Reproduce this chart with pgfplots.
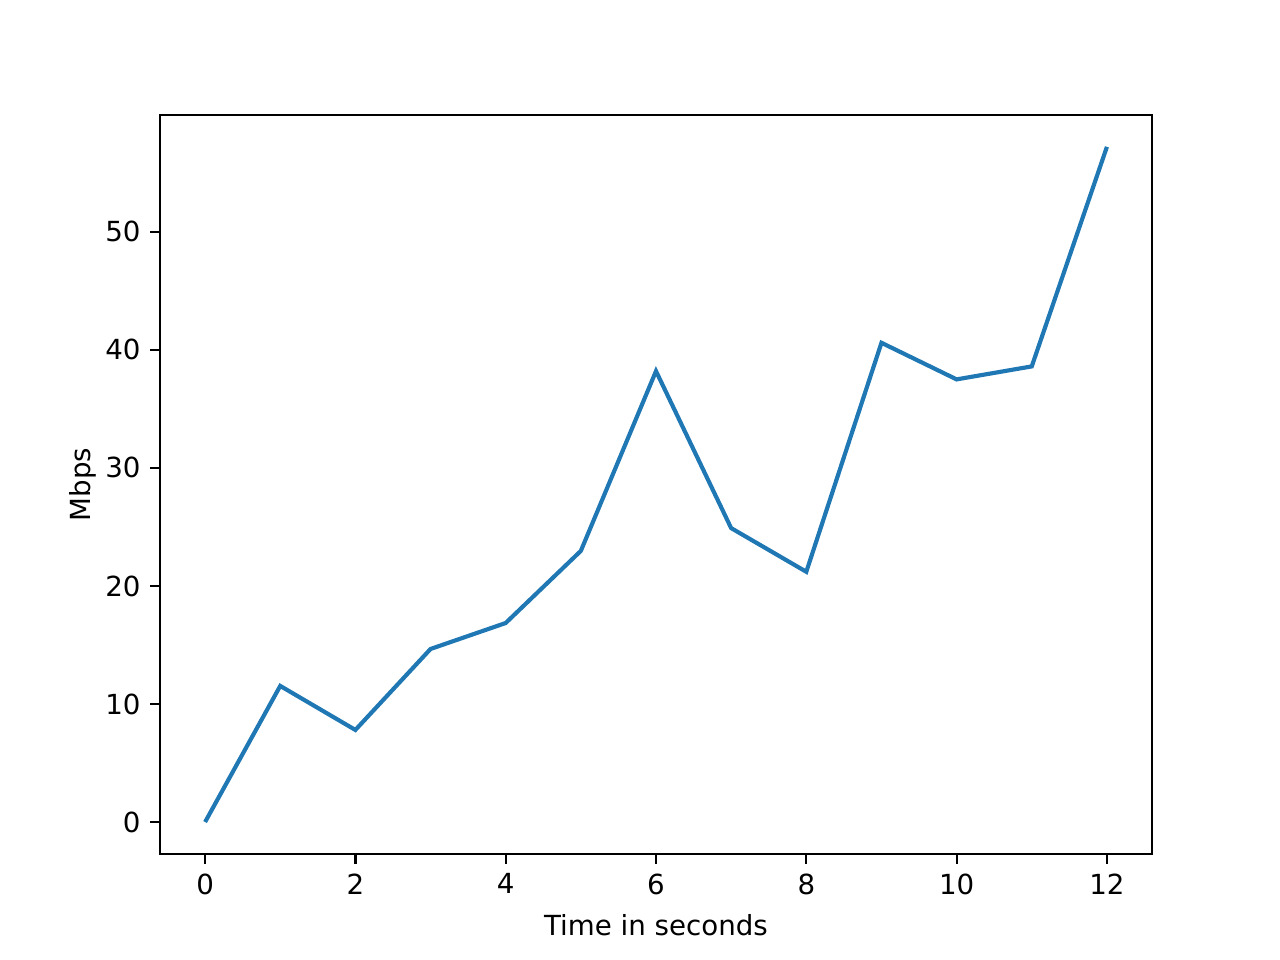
\documentclass[border=0pt]{standalone}
\usepackage{fontspec}
\setmainfont{DejaVu Sans}
\usepackage{pgfplots}
\pgfplotsset{compat=1.18}
\definecolor{mplblue}{HTML}{1F77B4}
\begin{document}
\begin{tikzpicture}
\path[use as bounding box] (-0.8in,-0.53in) rectangle (5.6in,4.27in);
\begin{axis}[
  at={(0,0)}, anchor=south west,
  scale only axis,
  width=4.96in, height=3.695in,
  xmin=-0.6, xmax=12.6,
  ymin=-2.71, ymax=59.9,
  xtick={0,2,4,6,8,10,12},
  ytick={0,10,20,30,40,50},
  xtick pos=bottom, ytick pos=left,
  tick align=outside,
  major tick length=3.5pt,
  every tick/.style={black, line width=0.8pt},
  axis line style={line width=0.8pt},
  /pgf/number format/assume math mode=true,
  tick label style={font=\fontsize{10}{12}\selectfont},
  label style={font=\fontsize{10}{12}\selectfont},
  xlabel={Time in seconds},
  ylabel={Mbps},
  xlabel style={yshift=-0.5pt},
  ylabel style={yshift=-3.5pt},
]
\addplot[mplblue, line width=1.5pt] coordinates {
(0,0) (1,11.53) (2,7.8) (3,14.66) (4,16.86) (5,22.97) (6,38.2)
(7,24.9) (8,21.2) (9,40.6) (10,37.5) (11,38.6) (12,57.2)
};
\end{axis}
\end{tikzpicture}
\end{document}
